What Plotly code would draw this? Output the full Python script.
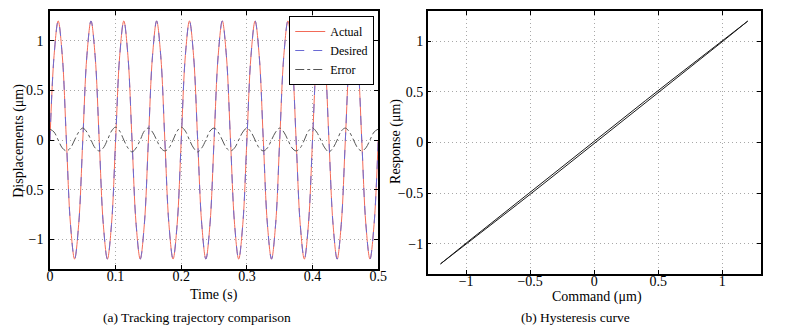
import plotly.graph_objects as go

# ---------------- data (a) ----------------
# time samples every 1/8 period (period 0.05 s)
time_s = [round(i * 0.00625, 5) for i in range(81)]

actual = [
    0, 0.85, 1.2, 0.85, 0, -0.85, -1.2, -0.85,
    0, 0.85, 1.2, 0.85, 0, -0.85, -1.2, -0.85,
    0, 0.85, 1.2, 0.85, 0, -0.85, -1.2, -0.85,
    0, 0.85, 1.2, 0.85, 0, -0.85, -1.2, -0.85,
    0, 0.85, 1.2, 0.85, 0, -0.85, -1.2, -0.85,
    0, 0.85, 1.2, 0.85, 0, -0.85, -1.2, -0.85,
    0, 0.85, 1.2, 0.85, 0, -0.85, -1.2, -0.85,
    0, 0.85, 1.2, 0.85, 0, -0.85, -1.2, -0.85,
    0, 0.85, 1.2, 0.85, 0, -0.85, -1.2, -0.85,
    0, 0.85, 1.2, 0.85, 0, -0.85, -1.2, -0.85,
    0,
]
desired = [
    0, 0.85, 1.2, 0.85, 0, -0.85, -1.2, -0.85,
    0, 0.85, 1.2, 0.85, 0, -0.85, -1.2, -0.85,
    0, 0.85, 1.2, 0.85, 0, -0.85, -1.2, -0.85,
    0, 0.85, 1.2, 0.85, 0, -0.85, -1.2, -0.85,
    0, 0.85, 1.2, 0.85, 0, -0.85, -1.2, -0.85,
    0, 0.85, 1.2, 0.85, 0, -0.85, -1.2, -0.85,
    0, 0.85, 1.2, 0.85, 0, -0.85, -1.2, -0.85,
    0, 0.85, 1.2, 0.85, 0, -0.85, -1.2, -0.85,
    0, 0.85, 1.2, 0.85, 0, -0.85, -1.2, -0.85,
    0, 0.85, 1.2, 0.85, 0, -0.85, -1.2, -0.85,
    0,
]
error = [
    0.11, 0.08, 0, -0.08, -0.11, -0.08, 0, 0.08,
    0.12, 0.08, 0, -0.08, -0.11, -0.08, 0, 0.09,
    0.13, 0.09, 0, -0.08, -0.12, -0.08, 0, 0.09,
    0.12, 0.08, 0, -0.08, -0.11, -0.08, 0, 0.09,
    0.13, 0.09, 0, -0.08, -0.12, -0.08, 0, 0.09,
    0.12, 0.08, 0, -0.08, -0.11, -0.08, 0, 0.08,
    0.12, 0.08, 0, -0.08, -0.11, -0.08, 0, 0.08,
    0.12, 0.08, 0, -0.08, -0.11, -0.08, 0, 0.09,
    0.12, 0.08, 0, -0.08, -0.12, -0.08, 0, 0.09,
    0.12, 0.08, 0, -0.08, -0.11, -0.08, 0, 0.08,
    0.11,
]

# ---------------- data (b) ----------------
command = [-1.2, -1.0, -0.8, -0.6, -0.4, -0.2, 0.0, 0.2, 0.4, 0.6, 0.8, 1.0, 1.2,
           1.0, 0.8, 0.6, 0.4, 0.2, 0.0, -0.2, -0.4, -0.6, -0.8, -1.0, -1.2]
response = [-1.2, -1.007, -0.81, -0.612, -0.413, -0.213, -0.013, 0.188, 0.389, 0.59, 0.792, 0.995, 1.2,
            1.007, 0.81, 0.612, 0.413, 0.213, 0.013, -0.188, -0.389, -0.59, -0.792, -0.995, -1.2]

x_ticks_a = [0, 0.1, 0.2, 0.3, 0.4, 0.5]
x_ticklabels_a = ["0", "0.1", "0.2", "0.3", "0.4", "0.5"]
y_ticks = [-1, -0.5, 0, 0.5, 1]
y_ticklabels = ["\u22121", "\u22120.5", "0", "0.5", "1"]
x_ticks_b = [-1, -0.5, 0, 0.5, 1]
x_ticklabels_b = ["\u22121", "\u22120.5", "0", "0.5", "1"]

FONT = "Liberation Serif, Times New Roman, serif"
W, H = 785, 332

fig = go.Figure()
fig.add_trace(go.Scatter(x=time_s, y=actual, name="Actual", mode="lines",
                         line=dict(color="#f26a58", width=1, shape="spline"),
                         xaxis="x", yaxis="y"))
fig.add_trace(go.Scatter(x=time_s, y=desired, name="Desired", mode="lines",
                         line=dict(color="#6a6ad4", width=1, dash="dash", shape="spline"),
                         xaxis="x", yaxis="y"))
fig.add_trace(go.Scatter(x=time_s, y=error, name="Error", mode="lines",
                         line=dict(color="#555555", width=1, dash="dashdot", shape="spline"),
                         xaxis="x", yaxis="y"))
fig.add_trace(go.Scatter(x=command, y=response, mode="lines", showlegend=False,
                         line=dict(color="#1a1a1a", width=1),
                         xaxis="x2", yaxis="y2"))

axis_common = dict(
    showline=True, linecolor="black", linewidth=1.5, mirror="ticks",
    ticks="inside", ticklen=4, tickcolor="black", tickwidth=1,
    showgrid=True, gridcolor="#a8a8a8", gridwidth=1, griddash="1px,3px",
    zeroline=False, tickfont=dict(family=FONT, size=14, color="black"),
)

fig.update_layout(
    width=W, height=H,
    margin=dict(l=0, r=0, t=0, b=0),
    paper_bgcolor="white", plot_bgcolor="white",
    font=dict(family=FONT, size=14, color="black"),
    xaxis=dict(domain=[47.7 / W, 381 / W], range=[0, 0.5], ticklabelstandoff=-7,
               tickvals=x_ticks_a, ticktext=x_ticklabels_a, anchor="y", **axis_common),
    yaxis=dict(domain=[1 - 269 / H, 1 - 11 / H], range=[-1.3, 1.3], ticklabelstandoff=2,
               tickvals=y_ticks, ticktext=y_ticklabels, anchor="x", **axis_common),
    xaxis2=dict(domain=[431.3 / W, 769.3 / W], range=[-1.3, 1.3], ticklabelstandoff=-7,
                tickvals=x_ticks_b, ticktext=x_ticklabels_b, anchor="y2", **axis_common),
    yaxis2=dict(domain=[1 - 274 / H, 1 - 11 / H], range=[-1.3, 1.3], ticklabelstandoff=0,
                tickvals=y_ticks, ticktext=y_ticklabels, anchor="x2", **axis_common),
    legend=dict(x=377 / W, y=1 - 16 / H, xanchor="right", yanchor="top",
                bgcolor="white", bordercolor="black", borderwidth=1,
                font=dict(family=FONT, size=12, color="black"),
                itemwidth=30, tracegroupgap=0),
    showlegend=True,
)

ann = [
    dict(text="Time (s)", x=214 / W, y=1 - 295 / H),
    dict(text="Command (\u03bcm)", x=603 / W, y=1 - 297 / H),
    dict(text="(a) Tracking trajectory comparison", x=197 / W, y=1 - 317 / H, size=13.5),
    dict(text="(b) Hysteresis curve", x=581 / W, y=1 - 317 / H, size=13.5),
    dict(text="Displacements (\u03bcm)", x=16 / W, y=1 - 141 / H, angle=-90),
    dict(text="Response (\u03bcm)", x=399 / W, y=1 - 141 / H, angle=-90),
]
for a in ann:
    fig.add_annotation(text=a["text"], x=a["x"], y=a["y"], xref="paper", yref="paper",
                       xanchor="center", yanchor="middle", showarrow=False,
                       textangle=a.get("angle", 0),
                       font=dict(family=FONT, size=a.get("size", 14), color="black"))

fig.write_html("out.html")
